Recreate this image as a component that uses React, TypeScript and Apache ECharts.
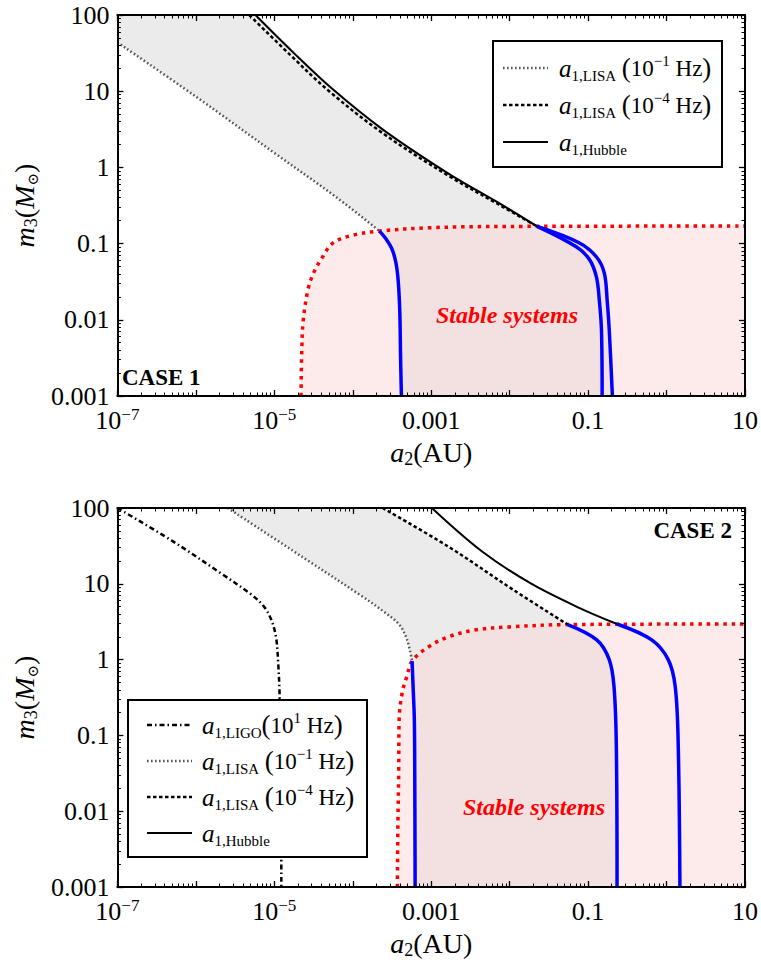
import React, { useEffect, useRef } from 'react';
import * as echarts from 'echarts';

type Pt = [number, number];

const SERIF = "'Liberation Serif', 'Times New Roman', Times, serif";

// ---- axes ----
const xRange: Pt = [1e-7, 10];
const yRange: Pt = [0.001, 100];
const xTickValues = [1e-7, 1e-5, 1e-3, 0.1, 10];
const xTickLabels = ['10{sup|−7}', '10{sup|−5}', '0.001', '0.1', '10'];
const yTickValues = [0.001, 0.01, 0.1, 1, 10, 100];
const yTickLabels = ['0.001', '0.01', '0.1', '1', '10', '100'];

// ---- CASE 1 curves [a2 (AU), m3 (Msun)] ----
const case1Lisa1: Pt[] = [[1e-7, 43.7], [1e-6, 8.5], [1e-5, 1.55], [6.3e-5, 0.4], [2.19e-4, 0.146]];
const case1Lisa4: Pt[] = [[4.8e-6, 100], [1.58e-5, 30.2], [5.0e-5, 10.0], [2.4e-4, 2.82], [1.66e-3, 0.776], [7.08e-3, 0.331], [0.0224, 0.168]];
const case1Hubble: Pt[] = [[5.75e-6, 100], [1.78e-5, 31.6], [5.62e-5, 10.5], [2.4e-4, 3.16], [1.66e-3, 0.83], [7.08e-3, 0.347], [0.0224, 0.168]];
const case1Stable: Pt[] = [[2.19e-5, 0.001], [2.24e-5, 0.004], [2.34e-5, 0.01], [2.69e-5, 0.025], [3.16e-5, 0.041], [3.98e-5, 0.063], [5.6e-5, 0.102], [1.0e-4, 0.129], [2.19e-4, 0.146], [1e-3, 0.162], [0.01, 0.168], [10, 0.17]];
const case1BlueA: Pt[] = [[2.19e-4, 0.146], [2.63e-4, 0.117], [3.16e-4, 0.085], [3.55e-4, 0.056], [3.8e-4, 0.032], [3.98e-4, 0.0126], [4.07e-4, 0.0032], [4.17e-4, 0.001]];
const case1BlueB: Pt[] = [[0.0224, 0.168], [0.0714, 0.09], [0.105, 0.061], [0.128, 0.036], [0.139, 0.018], [0.148, 0.0074], [0.151, 0.001]];
const case1BlueC: Pt[] = [[0.0224, 0.168], [0.0776, 0.102], [0.128, 0.0667], [0.161, 0.041], [0.175, 0.018], [0.186, 0.0074], [0.204, 0.001]];

// ---- CASE 2 curves ----
const case2Ligo: Pt[] = [[1e-7, 100], [5.0e-7, 36.8], [2.14e-6, 13.5], [5.1e-6, 7.2], [7.4e-6, 5.0], [9.1e-6, 3.4], [1.05e-5, 2.0], [1.12e-5, 0.91], [1.17e-5, 0.32], [1.22e-5, 0.0098], [1.23e-5, 0.001]];
const case2Lisa1: Pt[] = [[2.55e-6, 100], [2.37e-5, 22.0], [1.34e-4, 6.75], [2.39e-4, 4.42], [3.92e-4, 2.89], [4.93e-4, 1.83], [5.7e-4, 0.955]];
const case2Lisa4: Pt[] = [[2.4e-4, 100], [1.66e-3, 30.9], [0.0112, 8.3], [0.055, 2.9]];
const case2Hubble: Pt[] = [[1.02e-3, 100], [4.37e-3, 27.1], [0.0186, 10.1], [0.0794, 4.75], [0.234, 2.95]];
const case2Stable: Pt[] = [[3.7e-4, 0.001], [3.76e-4, 0.0063], [3.85e-4, 0.0316], [3.9e-4, 0.158], [4.27e-4, 0.37], [4.9e-4, 0.6], [5.7e-4, 0.955], [9.3e-4, 1.48], [1.66e-3, 2.0], [3.55e-3, 2.45], [0.01, 2.7], [0.055, 2.9], [10, 2.95]];
const case2BlueA: Pt[] = [[5.7e-4, 0.955], [5.9e-4, 0.4], [6.1e-4, 0.158], [6.17e-4, 0.0316], [6.24e-4, 0.001]];
const case2BlueB: Pt[] = [[0.055, 2.9], [0.129, 1.82], [0.186, 1.0], [0.214, 0.44], [0.229, 0.072], [0.234, 0.001]];
const case2BlueC: Pt[] = [[0.234, 2.95], [0.646, 1.82], [1.05, 1.0], [1.29, 0.44], [1.41, 0.072], [1.48, 0.001]];

// ---- legends ----
const legendCase1 = [
  { key: 'lisa1', sub: '1,LISA', exp: '−1', gap: ' ' },
  { key: 'lisa4', sub: '1,LISA', exp: '−4', gap: ' ' },
  { key: 'hubble', sub: '1,Hubble', exp: '', gap: '' },
];
const legendCase2 = [
  { key: 'ligo', sub: '1,LIGO', exp: '1', gap: '' },
  { key: 'lisa1', sub: '1,LISA', exp: '−1', gap: ' ' },
  { key: 'lisa4', sub: '1,LISA', exp: '−4', gap: ' ' },
  { key: 'hubble', sub: '1,Hubble', exp: '', gap: '' },
];

const STYLES: Record<string, { color: string; width: number; type: any }> = {
  lisa1: { color: '#555', width: 2.5, type: [1.6, 2.4] },
  lisa4: { color: '#000', width: 2.5, type: [3.5, 2.5] },
  hubble: { color: '#000', width: 2, type: 'solid' },
  ligo: { color: '#000', width: 2.5, type: [5, 3, 1.5, 3] },
  stable: { color: '#ff0000', width: 3.5, type: [3.5, 4.8] },
  blue: { color: '#0000ff', width: 3.5, type: 'solid' },
};

const GRAY = '#ebebeb';
const PINK = '#fdeaea';
const OVERLAP = '#f3e0e0';

const lg = Math.log10;

function decades(r: Pt) {
  const out: number[] = [];
  for (let n = Math.round(lg(r[0])); n <= Math.round(lg(r[1])); n++) out.push(n);
  return out;
}
function minors(r: Pt) {
  const out: number[] = [];
  for (let n = Math.round(lg(r[0])); n < Math.round(lg(r[1])); n++)
    for (let k = 2; k <= 9; k++) out.push(n + lg(k));
  return out;
}
function pickLabel(values: number[], labels: string[], v: number) {
  const i = values.findIndex((t) => Math.abs(lg(t) - v) < 1e-6);
  return i >= 0 ? labels[i] : '';
}
function between(curve: Pt[], a: number, b: number) {
  return curve.filter((p) => p[0] > a && p[0] < b);
}
const rev = (c: Pt[]) => c.slice().reverse();

const GRIDS = [
  { left: 111, top: 15, width: 637, height: 381 },
  { left: 111, top: 508, width: 637, height: 380 },
];

const xNameRich = {
  i: { fontFamily: SERIF, fontStyle: 'italic', fontSize: 28, lineHeight: 32, color: '#000' },
  sb: { fontFamily: SERIF, fontSize: 18, verticalAlign: 'bottom', color: '#000' },
  n: { fontFamily: SERIF, fontSize: 28, lineHeight: 32, color: '#000' },
};
const yNameRich = {
  ...xNameRich,
  o: { fontFamily: "'DejaVu Serif', serif", fontSize: 15, verticalAlign: 'bottom', color: '#000' },
};

function tickAxes(dim: 'x' | 'y', g: number) {
  const isX = dim === 'x';
  const r = isX ? xRange : yRange;
  const base: any = {
    type: 'value', gridIndex: g, min: lg(r[0]), max: lg(r[1]), z: 10, silent: true,
    splitLine: { show: false }, splitArea: { show: false },
  };
  const positions = isX ? ['bottom', 'top'] : ['left', 'right'];
  const out: any[] = [];
  positions.forEach((pos, pi) => {
    const main: any = {
      ...base, position: pos,
      axisLine: { show: true, onZero: false, lineStyle: { color: '#000', width: 2 } },
      axisTick: { show: true, inside: true, length: 6, lineStyle: { color: '#000', width: 1.3 }, customValues: decades(r) },
      axisLabel: { show: false },
    };
    if (pi === 0) {
      main.axisLabel = {
        show: true,
        customValues: (isX ? xTickValues : yTickValues).map(lg),
        formatter: (v: number) => (isX ? pickLabel(xTickValues, xTickLabels, v) : pickLabel(yTickValues, yTickLabels, v)),
        margin: isX ? 10 : 8,
        color: '#000', fontFamily: SERIF, fontSize: 26, lineHeight: isX ? 28 : 20,
        rich: { sup: { fontFamily: SERIF, fontSize: 17, color: '#000', verticalAlign: 'top' } },
      };
      main.nameLocation = 'middle';
      if (isX) {
        main.name = '{i|a}{sb|2}{n|(AU)}';
        main.nameGap = 40;
        main.nameTextStyle = { color: '#000', fontFamily: SERIF, fontSize: 28, lineHeight: 32, rich: xNameRich };
      } else {
        main.name = '{i|m}{sb|3}{n|(}{i|M}{o|⊙}{n|)}';
        main.nameGap = 68;
        main.nameTextStyle = { color: '#000', fontFamily: SERIF, fontSize: 28, lineHeight: 32, rich: yNameRich };
      }
    }
    out.push(main);
    out.push({
      ...base, position: pos,
      axisLine: { show: false, onZero: false },
      axisTick: { show: true, inside: true, length: 3.5, lineStyle: { color: '#000', width: 1 }, customValues: minors(r) },
      axisLabel: { show: false },
    });
  });
  return out;
}

function lineSeries(data: Pt[], key: string, g: number, z = 3) {
  const s = STYLES[key];
  return {
    type: 'line', xAxisIndex: g, yAxisIndex: g, data, showSymbol: false, symbol: 'none',
    smooth: 0.35, silent: true, z, clip: true,
    lineStyle: { color: s.color, width: s.width, type: s.type, cap: 'butt', join: 'round' },
  };
}

function fillSeries(poly: Pt[], color: string, g: number, z = 1) {
  return {
    type: 'custom', xAxisIndex: g, yAxisIndex: g, z, silent: true, clip: true,
    data: [[1, 1]],
    renderItem: (_p: any, api: any) => ({
      type: 'polygon',
      shape: { points: poly.map((p) => api.coord(p)) },
      style: { fill: color },
      silent: true,
    }),
  };
}

function legendGraphic(entries: any[], box: { x: number; y: number; w: number; h: number }, rows: number[], lx1: number, lx2: number, tx: number) {
  const els: any[] = [
    { type: 'rect', z: 50, shape: { x: box.x, y: box.y, width: box.w, height: box.h }, style: { fill: '#fff', stroke: '#000', lineWidth: 2 } },
  ];
  entries.forEach((e, i) => {
    const s = STYLES[e.key];
    els.push({
      type: 'line', z: 51, shape: { x1: lx1, y1: rows[i], x2: lx2, y2: rows[i] },
      style: { stroke: s.color, lineWidth: s.width, lineDash: Array.isArray(s.type) ? s.type : null },
    });
    let text = '{a|a}{s|' + e.sub + '}';
    if (e.exp) text += '{n|' + e.gap + '}{b|(}{n|10}{p|' + e.exp + '}{n| Hz}{b|)}';
    els.push({
      type: 'text', z: 51, x: tx, y: rows[i],
      style: {
        text, fill: '#000', align: 'left', verticalAlign: 'middle', fontFamily: SERIF, fontSize: 23,
        rich: {
          a: { fontFamily: SERIF, fontStyle: 'italic', fontSize: 25, lineHeight: 30 },
          s: { fontFamily: SERIF, fontSize: 15, verticalAlign: 'bottom' },
          n: { fontFamily: SERIF, fontSize: 23, lineHeight: 30 },
          b: { fontFamily: SERIF, fontSize: 27, lineHeight: 30 },
          p: { fontFamily: SERIF, fontSize: 15, verticalAlign: 'top' },
        },
      },
    });
  });
  return els;
}

function textEl(text: string, x: number, y: number, align: string, extra: any) {
  return {
    type: 'text', z: 52, x, y,
    style: { text, align, verticalAlign: 'middle', fontFamily: SERIF, ...extra },
  };
}

function buildOption() {
  const P1 = case1BlueA[0];
  const P2 = case1BlueB[0];
  const grayTop: Pt[] = [[xRange[0], yRange[1]], ...case1Lisa1, ...between(case1Stable, P1[0], P2[0]), ...rev(case1Hubble)];
  const overlapTop: Pt[] = [...case1BlueA, ...rev(case1BlueC), ...rev(between(case1Stable, P1[0], P2[0]))];
  const pinkTop: Pt[] = [...case1Stable, [xRange[1], yRange[0]]];

  const Q1 = case2BlueA[0];
  const Q2 = case2BlueB[0];
  const grayBot: Pt[] = [...case2Lisa1, ...between(case2Stable, Q1[0], Q2[0]), ...rev(case2Lisa4)];
  const overlapBot: Pt[] = [...case2BlueA, ...rev(case2BlueB), ...rev(between(case2Stable, Q1[0], Q2[0]))];
  const pinkBot: Pt[] = [...case2Stable, [xRange[1], yRange[0]]];

  const dataX = GRIDS.map((_, g) => ({ type: 'log', logBase: 10, gridIndex: g, min: xRange[0], max: xRange[1], show: false }));
  const dataY = GRIDS.map((_, g) => ({ type: 'log', logBase: 10, gridIndex: g, min: yRange[0], max: yRange[1], show: false }));

  const series: any[] = [
    fillSeries(pinkTop, PINK, 0),
    fillSeries(grayTop, GRAY, 0),
    fillSeries(overlapTop, OVERLAP, 0),
    lineSeries(case1Stable, 'stable', 0, 3),
    lineSeries(case1Lisa1, 'lisa1', 0, 3),
    lineSeries(case1Lisa4, 'lisa4', 0, 3),
    lineSeries(case1Hubble, 'hubble', 0, 3),
    lineSeries(case1BlueA, 'blue', 0, 4),
    lineSeries(case1BlueB, 'blue', 0, 4),
    lineSeries(case1BlueC, 'blue', 0, 4),

    fillSeries(pinkBot, PINK, 1),
    fillSeries(grayBot, GRAY, 1),
    fillSeries(overlapBot, OVERLAP, 1),
    lineSeries(case2Stable, 'stable', 1, 3),
    lineSeries(case2Ligo, 'ligo', 1, 3),
    lineSeries(case2Lisa1, 'lisa1', 1, 3),
    lineSeries(case2Lisa4, 'lisa4', 1, 3),
    lineSeries(case2Hubble, 'hubble', 1, 3),
    lineSeries(case2BlueA, 'blue', 1, 4),
    lineSeries(case2BlueB, 'blue', 1, 4),
    lineSeries(case2BlueC, 'blue', 1, 4),
  ];

  const graphic: any[] = [
    ...legendGraphic(legendCase1, { x: 493, y: 41, w: 229, h: 126 }, [68, 105, 142], 503, 548, 559),
    ...legendGraphic(legendCase2, { x: 128, y: 700, w: 239, h: 157 }, [725, 761, 797, 833], 147, 192, 202),
    textEl('CASE 1', 122, 377, 'left', { fontWeight: 'bold', fontSize: 23, fill: '#000' }),
    textEl('CASE 2', 732, 530, 'right', { fontWeight: 'bold', fontSize: 23, fill: '#000' }),
    textEl('Stable systems', 507, 315, 'center', { fontWeight: 'bold', fontStyle: 'italic', fontSize: 24, fill: '#ff0000' }),
    textEl('Stable systems', 534, 807, 'center', { fontWeight: 'bold', fontStyle: 'italic', fontSize: 24, fill: '#ff0000' }),
  ];

  return {
    animation: false,
    backgroundColor: '#fff',
    grid: GRIDS.map((gr) => ({ ...gr, containLabel: false, show: false })),
    xAxis: [...dataX, ...tickAxes('x', 0), ...tickAxes('x', 1)],
    yAxis: [...dataY, ...tickAxes('y', 0), ...tickAxes('y', 1)],
    series,
    graphic: { elements: graphic },
  };
}

export default function App() {
  const ref = useRef<HTMLDivElement>(null);
  useEffect(() => {
    document.body.style.margin = '0';
    if (!ref.current) return;
    const chart = echarts.init(ref.current, null, { renderer: 'svg' });
    chart.setOption(buildOption() as any);
    return () => chart.dispose();
  }, []);
  return <div ref={ref} style={{ width: 761, height: 960 }} />;
}
